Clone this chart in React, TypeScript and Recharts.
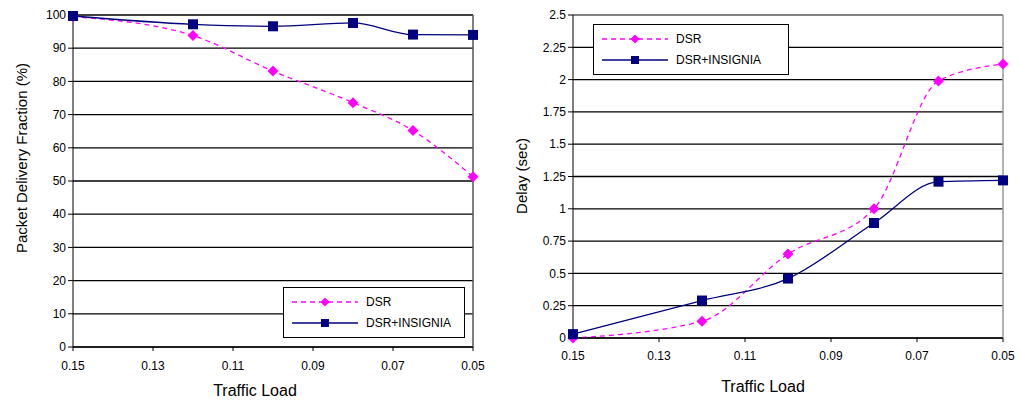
import React from 'react';
import {
  LineChart,
  Line,
  XAxis,
  YAxis,
  CartesianGrid,
  Legend,
  Label,
  ReferenceLine,
} from 'recharts';

// traffic load values (x) — axis runs from 0.15 down to 0.05
const loads = [0.15, 0.12, 0.1, 0.08, 0.065, 0.05];
const loadTicks = [0.15, 0.13, 0.11, 0.09, 0.07, 0.05];

// packet delivery fraction (%)
const pdfDsr = [99.5, 93.8, 83.1, 73.6, 65.2, 51.3];
const pdfInsignia = [99.7, 97.2, 96.6, 97.6, 94.1, 94.0];
const pdfTicks = [0, 10, 20, 30, 40, 50, 60, 70, 80, 90, 100];

// delay (sec)
const delayDsr = [0.0, 0.13, 0.65, 1.0, 1.99, 2.12];
const delayInsignia = [0.03, 0.29, 0.46, 0.89, 1.21, 1.22];
const delayTicks = [0, 0.25, 0.5, 0.75, 1, 1.25, 1.5, 1.75, 2, 2.25, 2.5];

const seriesNames = ['DSR', 'DSR+INSIGNIA'];

const pdfData = loads.map((load, i) => ({ load, dsr: pdfDsr[i], ins: pdfInsignia[i] }));
const delayData = loads.map((load, i) => ({ load, dsr: delayDsr[i], ins: delayInsignia[i] }));

const FONT = '"Liberation Sans", Arial, sans-serif';
const PINK = '#ff00ff';
const NAVY = '#000080';

const Diamond = (props: any) => {
  const { cx, cy, index } = props;
  if (cx == null || cy == null) return <g key={`d-${index}`} />;
  const r = 5.5;
  return (
    <path
      key={`d-${index}`}
      d={`M${cx},${cy - r} L${cx + r},${cy} L${cx},${cy + r} L${cx - r},${cy} Z`}
      fill={PINK}
    />
  );
};

const Square = (props: any) => {
  const { cx, cy, index } = props;
  if (cx == null || cy == null) return <g key={`s-${index}`} />;
  const r = 5;
  return <rect key={`s-${index}`} x={cx - r} y={cy - r} width={2 * r} height={2 * r} fill={NAVY} />;
};

function LegendBox({ width }: { width: number }) {
  return (
    <div
      style={{
        width,
        border: '1.5px solid #000',
        background: '#fff',
        padding: '3px 0 4px 6px',
        boxSizing: 'border-box',
        fontFamily: FONT,
        fontSize: 12,
      }}
    >
      {seriesNames.map((name, i) => (
        <div key={name} style={{ display: 'flex', alignItems: 'center', height: 21 }}>
          <svg width={70} height={14} style={{ marginRight: 6 }}>
            <line
              x1={2}
              y1={7}
              x2={68}
              y2={7}
              stroke={i === 0 ? PINK : NAVY}
              strokeWidth={1.3}
              strokeDasharray={i === 0 ? '5 4' : undefined}
            />
            {i === 0 ? (
              <path d="M35,2.5 L39.5,7 L35,11.5 L30.5,7 Z" fill={PINK} />
            ) : (
              <rect x={31} y={3} width={8} height={8} fill={NAVY} />
            )}
          </svg>
          <span>{name}</span>
        </div>
      ))}
    </div>
  );
}

const tickStyle = { fontSize: 12, fill: '#000', fontFamily: FONT };

export default function App() {
  return (
    <div style={{ position: 'absolute', left: 0, top: 0, width: 1021, height: 404, background: '#fff' }}>
      <div style={{ position: 'absolute', left: 0, top: 0 }}>
        <LineChart width={510} height={404} data={pdfData} margin={{ top: 15, right: 37, left: 10, bottom: 27 }}>
          <CartesianGrid vertical={false} stroke="#000" strokeWidth={1.3} />
          <XAxis
            dataKey="load"
            type="number"
            domain={[0.05, 0.15]}
            ticks={loadTicks}
            reversed
            tickFormatter={(v: number) => v.toFixed(2)}
            tick={{ ...tickStyle, dy: 8 }}
            stroke="#000"
            tickSize={4}
            height={30}
          >
            <Label
              content={() => (
                <text x={255} y={396} textAnchor="middle" fontSize={16} fontFamily={FONT} fill="#000">
                  Traffic Load
                </text>
              )}
            />
          </XAxis>
          <YAxis
            type="number"
            domain={[0, 100]}
            ticks={pdfTicks}
            tick={tickStyle}
            stroke="#000"
            tickSize={5}
            width={63}
          >
            <Label
              content={() => (
                <text
                  x={27}
                  y={158}
                  transform="rotate(-90 27 158)"
                  textAnchor="middle"
                  fontSize={15}
                  fontFamily={FONT}
                  fill="#000"
                >
                  Packet Delivery Fraction (%)
                </text>
              )}
            />
          </YAxis>
          <ReferenceLine x={0.05} stroke="#555" strokeWidth={1.5} />
          <Line
            dataKey="dsr"
            name={seriesNames[0]}
            type="monotone"
            stroke={PINK}
            strokeWidth={1.3}
            strokeDasharray="5 4"
            dot={Diamond}
            isAnimationActive={false}
          />
          <Line
            dataKey="ins"
            name={seriesNames[1]}
            type="monotone"
            stroke={NAVY}
            strokeWidth={1.3}
            dot={Square}
            isAnimationActive={false}
          />
          <Legend
            layout="vertical"
            align="center"
            verticalAlign="middle"
            wrapperStyle={{ left: 283, top: 287, width: 182 }}
            content={() => <LegendBox width={182} />}
          />
        </LineChart>
      </div>

      <div style={{ position: 'absolute', left: 510, top: 0 }}>
        <LineChart width={511} height={404} data={delayData} margin={{ top: 15, right: 18, left: 10, bottom: 36 }}>
          <CartesianGrid vertical={false} stroke="#000" strokeWidth={1.3} />
          <XAxis
            dataKey="load"
            type="number"
            domain={[0.05, 0.15]}
            ticks={loadTicks}
            reversed
            tickFormatter={(v: number) => v.toFixed(2)}
            tick={{ ...tickStyle, dy: 7 }}
            stroke="#000"
            tickSize={4}
            height={30}
          >
            <Label
              content={() => (
                <text x={253} y={392} textAnchor="middle" fontSize={16} fontFamily={FONT} fill="#000">
                  Traffic Load
                </text>
              )}
            />
          </XAxis>
          <YAxis
            type="number"
            domain={[0, 2.5]}
            ticks={delayTicks}
            tick={tickStyle}
            stroke="#000"
            tickSize={5}
            width={53}
          >
            <Label
              content={() => (
                <text
                  x={17}
                  y={176}
                  transform="rotate(-90 17 176)"
                  textAnchor="middle"
                  fontSize={15}
                  fontFamily={FONT}
                  fill="#000"
                >
                  Delay (sec)
                </text>
              )}
            />
          </YAxis>
          <ReferenceLine x={0.05} stroke="#999" strokeWidth={1.5} />
          <ReferenceLine y={2.5} stroke="#999" strokeWidth={1.5} />
          <Line
            dataKey="dsr"
            name={seriesNames[0]}
            type="monotone"
            stroke={PINK}
            strokeWidth={1.3}
            strokeDasharray="5 4"
            dot={Diamond}
            isAnimationActive={false}
          />
          <Line
            dataKey="ins"
            name={seriesNames[1]}
            type="monotone"
            stroke={NAVY}
            strokeWidth={1.3}
            dot={Square}
            isAnimationActive={false}
          />
          <Legend
            layout="vertical"
            align="center"
            verticalAlign="middle"
            wrapperStyle={{ left: 83, top: 24, width: 196 }}
            content={() => <LegendBox width={196} />}
          />
        </LineChart>
      </div>
    </div>
  );
}
